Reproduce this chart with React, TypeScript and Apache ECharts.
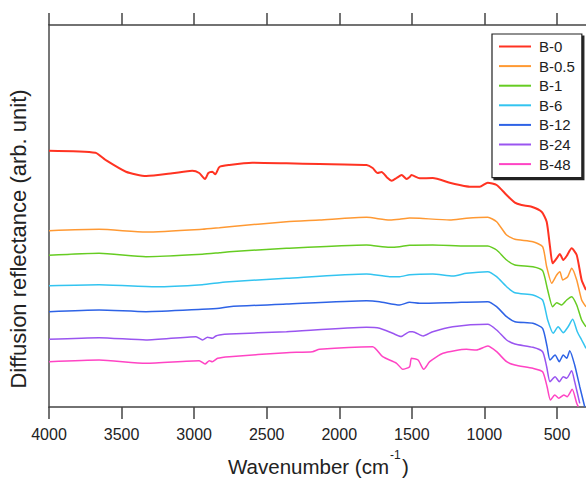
import React, { useEffect, useRef } from "react";
import * as echarts from "echarts";

// Wavenumber (cm-1), reflectance (arb. unit) pairs
const B0: [number, number][] = [
  [4000, 256.3], [3680, 254.3], [3610, 247], [3470, 235.3], [3330, 231], [3150, 233.7], [3013, 236.3],
  [2965, 234], [2925, 228], [2902, 234], [2875, 235.3], [2854, 232.7], [2826, 240], [2757, 242],
  [2600, 244.3], [2364, 243.7], [2136, 243], [1812, 242], [1770, 239], [1736, 234], [1708, 235],
  [1674, 230], [1639, 226.3], [1605, 229], [1570, 232], [1536, 228], [1515, 230], [1503, 232],
  [1446, 228.7], [1356, 229], [1239, 224.3], [1170, 222], [1101, 220.3], [1032, 220.3], [977, 224.3],
  [916, 222], [847, 212], [790, 204.3], [744, 202], [675, 200.3], [606, 195.3], [571, 185.3],
  [548, 160.3], [530, 143.7], [502, 148.7], [480, 153], [457, 147], [433, 151], [399, 158.7],
  [364, 152], [330, 127], [300, 117],
];
const B05: [number, number][] = [
  [4000, 176.3], [3655, 177.7], [3332, 175], [2944, 177.7], [2826, 179.3], [2757, 180.3], [2364, 185.3],
  [2136, 187], [1812, 189.7], [1653, 187], [1584, 187.7], [1515, 189], [1446, 188.7], [1239, 187],
  [1124, 188.7], [977, 189.7], [916, 185.3], [847, 172], [790, 167.7], [666, 165.3], [599, 160.3],
  [571, 140.3], [536, 123.7], [502, 132], [480, 135.3], [460, 127], [426, 130.3], [399, 138.7],
  [364, 127], [330, 107], [300, 100.3],
];
const B1: [number, number][] = [
  [4000, 151.7], [3655, 153.7], [3332, 150.3], [2944, 152.7], [2826, 154.3], [2757, 155.3], [2364, 158.7],
  [1812, 162], [1653, 159.7], [1584, 160.3], [1515, 161.7], [1356, 162], [1124, 161], [977, 161],
  [916, 157], [847, 147], [790, 142], [666, 140.3], [599, 136.3], [564, 117], [530, 100.3],
  [502, 104.3], [468, 102], [433, 107], [399, 110.3], [364, 102], [330, 87], [300, 80.3],
];
const B6: [number, number][] = [
  [4000, 121.3], [3655, 122.3], [3263, 120.3], [2944, 122.3], [2826, 124.3], [2757, 125.3], [2364, 128.7],
  [1812, 133], [1653, 130.3], [1584, 130.3], [1515, 132.3], [1356, 133], [1218, 131], [1124, 133.7],
  [977, 135.3], [916, 130.3], [847, 120.3], [790, 114.3], [666, 112], [599, 107], [564, 87],
  [526, 73.7], [492, 80.3], [457, 74.3], [423, 80.3], [392, 87.7], [360, 75.3], [330, 67], [300, 58.7],
];
const B12: [number, number][] = [
  [4000, 95.3], [3655, 97], [3332, 95.3], [2944, 97.7], [2826, 98.7], [2757, 100.3], [2364, 103],
  [1812, 106.3], [1722, 105.3], [1584, 102], [1515, 104.7], [1446, 103.7], [1239, 104.3], [977, 105.3],
  [916, 100.3], [847, 90.3], [790, 85.3], [666, 83.7], [599, 78.7], [568, 60.3], [548, 47],
  [513, 52], [484, 45.3], [457, 52], [433, 48.7], [412, 56.3], [378, 42], [343, 20.3], [309, 0.3],
];
const B24: [number, number][] = [
  [4000, 67.7], [3655, 69.3], [3332, 67], [2987, 70.3], [2942, 67], [2908, 69.7], [2875, 68.7],
  [2850, 71], [2826, 72], [2757, 73], [2364, 75.3], [1812, 79.7], [1722, 78.7], [1632, 73.7],
  [1575, 70.5], [1515, 75.3], [1494, 75.3], [1422, 71], [1356, 75.3], [1218, 80.3], [977, 82.7],
  [916, 77], [847, 67], [790, 63], [666, 59.7], [599, 55.3], [571, 40.3], [548, 25.3], [513, 30.3],
  [484, 25.3], [457, 30.3], [433, 28.7], [399, 36.3], [378, 25.3], [343, 3.7],
];
const B48: [number, number][] = [
  [4000, 45.3], [3655, 47], [3332, 43.7], [2965, 46.3], [2925, 43], [2895, 46.3], [2875, 45.3],
  [2838, 48.7], [2757, 50.3], [2364, 54.3], [2185, 55.3], [2136, 57.7], [1770, 60.3], [1701, 50.3],
  [1605, 43.7], [1563, 37.7], [1515, 40.3], [1503, 48.7], [1457, 47], [1418, 37.7], [1377, 45.3],
  [1285, 53.7], [1124, 57.7], [1055, 57], [977, 61], [916, 55.3], [847, 45.3], [790, 42], [666, 38.7],
  [599, 35.3], [568, 20.3], [545, 7], [515, 12], [487, 8.7], [453, 12], [430, 10.3], [395, 17.7],
  [364, 3.7], [353, 0.3],
];

const NAMES = ["B-0", "B-0.5", "B-1", "B-6", "B-12", "B-24", "B-48"];
const DATA = [B0, B05, B1, B6, B12, B24, B48];
const COLORS = ["#ff3322", "#ff9933", "#66cc22", "#33c4f0", "#2e63e6", "#9a55f0", "#ff44c4"];
const TICKS = [4000, 3500, 3000, 2500, 2000, 1500, 1000, 500];

const FONT = '"Liberation Sans", Arial, Helvetica, sans-serif';

export default function App() {
  const ref = useRef<HTMLDivElement>(null);
  useEffect(() => {
    if (!ref.current) return;
    const chart = echarts.init(ref.current, undefined, { renderer: "svg" });
    const axisBase = {
      type: "value" as const,
      min: 300,
      max: 4000,
      inverse: true,
      splitLine: { show: false },
      axisLine: { show: true, onZero: false, lineStyle: { color: "#444", width: 1.5 } },
      axisTick: { show: true, inside: false, length: 12, customValues: TICKS, lineStyle: { color: "#444", width: 1.5 } },
    };
    chart.setOption({
      animation: false,
      backgroundColor: "#fff",
      grid: { left: 49, right: 0, top: 25, bottom: 71, containLabel: false },
      xAxis: [
        {
          ...axisBase,
          position: "bottom",
          axisLabel: {
            show: true,
            customValues: TICKS,
            formatter: (v: number) => String(v),
            fontSize: 16,
            color: "#222",
            margin: 19,
            fontFamily: FONT,
          },
        },
        {
          ...axisBase,
          position: "top",
          axisLabel: { show: false },
        },
      ],
      yAxis: {
        type: "value",
        min: 0,
        max: 382,
        axisLine: { show: true, onZero: false, lineStyle: { color: "#777", width: 2 } },
        axisTick: { show: false },
        axisLabel: { show: false },
        splitLine: { show: false },
      },
      legend: {
        data: NAMES,
        orient: "vertical",
        left: 492,
        top: 34,
        itemWidth: 32,
        itemHeight: 14,
        itemGap: 4.6,
        padding: [5, 7, 6, 6],
        backgroundColor: "#fff",
        borderColor: "#222",
        borderWidth: 1.2,
        shadowColor: "#222",
        shadowOffsetX: 2,
        shadowOffsetY: 2,
        shadowBlur: 0,
        selectedMode: false,
        itemStyle: { opacity: 0 },
        textStyle: { fontSize: 15, lineHeight: 14, color: "#222", fontFamily: FONT, padding: [0, 0, 0, 3] },
      },
      graphic: [
        {
          type: "text",
          x: 18,
          y: 239,
          rotation: Math.PI / 2,
          style: {
            text: "Diffusion reflectance (arb. unit)",
            font: `22px ${FONT}`,
            fill: "#222",
            align: "center",
            verticalAlign: "middle",
            textAlign: "center",
            textVerticalAlign: "middle",
          },
        },
        {
          type: "text",
          x: 389,
          y: 466,
          style: {
            text: "Wavenumber (cm",
            font: `20.5px ${FONT}`,
            fill: "#222",
            align: "right",
            verticalAlign: "middle",
            textAlign: "right",
            textVerticalAlign: "middle",
          },
        },
        {
          type: "text",
          x: 390,
          y: 455,
          style: {
            text: "-1",
            font: `12px ${FONT}`,
            fill: "#222",
            align: "left",
            verticalAlign: "middle",
            textAlign: "left",
            textVerticalAlign: "middle",
          },
        },
        {
          type: "text",
          x: 402,
          y: 466,
          style: {
            text: ")",
            font: `20.5px ${FONT}`,
            fill: "#222",
            align: "left",
            verticalAlign: "middle",
            textAlign: "left",
            textVerticalAlign: "middle",
          },
        },
      ],
      series: DATA.map((d, i) => ({
        name: NAMES[i],
        type: "line",
        data: d,
        showSymbol: false,
        symbol: "none",
        smooth: 0.2,
        clip: true,
        color: COLORS[i],
        lineStyle: { color: COLORS[i], width: i === 0 ? 2 : 1.5 },
        emphasis: { disabled: true },
      })),
    });
    return () => chart.dispose();
  }, []);
  return <div ref={ref} style={{ position: "absolute", left: 0, top: 0, width: 586, height: 478 }} />;
}
